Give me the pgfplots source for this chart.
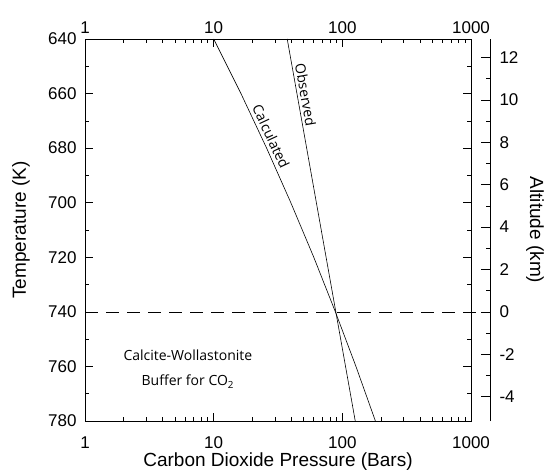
\documentclass[border=0pt]{standalone}
\usepackage{fontspec}
\setmainfont{Liberation Sans}
\newfontfamily\annot{Open Sans}
\usepackage{pgfplots}
\pgfplotsset{compat=1.18}

\begin{document}
\begin{tikzpicture}
\path[use as bounding box] (-85pt,-50pt) rectangle (460pt,421pt);

% main frame: pressure vs temperature
\begin{axis}[
    name=main,
    at={(0,0)}, anchor=south west,
    scale only axis, width=386pt, height=382pt,
    xmode=log, xmin=1, xmax=1000,
    ymin=640, ymax=780, y dir=reverse,
    xtick={1,10,100,1000}, xticklabels={1,10,100,1000},
    ytick={640,660,...,780}, minor y tick num=1,
    tick align=inside, major tick length=8pt, minor tick length=4pt,
    axis line style={line width=0.7pt},
    every tick/.style={black, line width=0.6pt},
    tick label style={font=\fontsize{17}{19}\selectfont},
    xticklabel style={yshift=-12pt},
    yticklabel style={xshift=-5pt},
    /pgf/number format/assume math mode=true,
    clip=false,
]
\addplot[black, line width=0.6pt] coordinates {
    (10,640) (16.3,660) (25.8,680) (39.8,700) (60,720) (88.3,740) (127.6,760) (180.7,780)
};
\addplot[black, line width=0.6pt] coordinates {
    (37.3,640) (89,740) (126,780)
};
\addplot[black, line width=0.6pt, dash pattern=on 13pt off 8pt] coordinates {
    (1,740) (1418,740)
};
\node[font=\annot\fontsize{14}{16}\selectfont, rotate=-65, anchor=south, inner sep=2.5pt]
    at (axis cs:24.5,677) {Calculated};
\node[font=\annot\fontsize{14}{16}\selectfont, rotate=-80, anchor=south, inner sep=2.5pt]
    at (axis cs:44.9,661) {Observed};
\node[font=\annot\fontsize{14}{25}\selectfont, align=center]
    at (axis cs:6.3,761) {Calcite-Wollastonite\\Buffer for CO\textsubscript{2}};
\end{axis}

% top tick labels
\begin{axis}[
    at={(0,0)}, anchor=south west,
    scale only axis, width=386pt, height=382pt,
    xmode=log, xmin=1, xmax=1000, ymin=0, ymax=1,
    axis x line*=top, axis y line=none,
    axis line style={draw=none},
    xtick={1,10,100,1000}, xticklabels={1,10,100,1000},
    major tick length=0pt, minor tick length=0pt,
    tick label style={font=\fontsize{17}{19}\selectfont},
    xticklabel style={yshift=2pt},
]
\end{axis}

% altitude spine
\begin{axis}[
    at={(main.south east)}, anchor=south west,
    scale only axis, width=19pt, height=382pt,
    xmin=0, xmax=1, ymin=-5.15, ymax=12.87,
    axis x line=none, axis y line*=right,
    axis line style={line width=0.7pt},
    ytick={-4,-2,...,12}, minor y tick num=1,
    tick align=inside, major tick length=9pt, minor tick length=4pt,
    every tick/.style={black, line width=0.6pt},
    tick label style={font=\fontsize{17}{19}\selectfont},
    yticklabel style={xshift=6pt},
    /pgf/number format/assume math mode=true,
]
\end{axis}

\node[font=\fontsize{19}{21}\selectfont] at ([yshift=-41pt]main.south) {Carbon Dioxide Pressure (Bars)};
\node[font=\fontsize{19}{21}\selectfont, rotate=90] at ([xshift=-64pt]main.west) {Temperature (K)};
\node[font=\fontsize{19}{21}\selectfont, rotate=-90] at (450pt,191pt) {Altitude (km)};
\end{tikzpicture}
\end{document}
